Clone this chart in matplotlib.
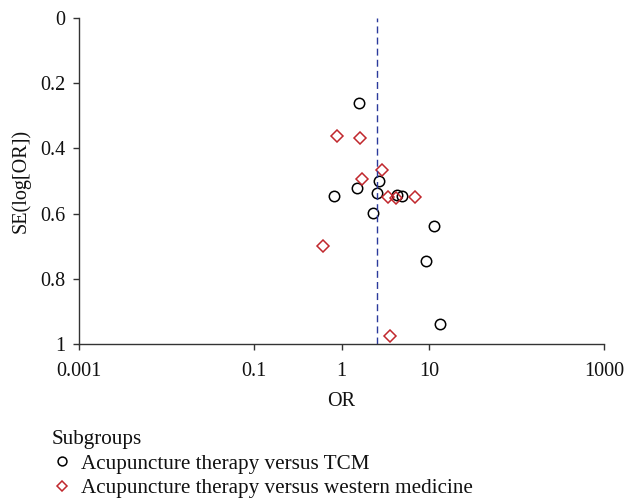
import matplotlib
matplotlib.use("Agg")
import matplotlib.pyplot as plt
from matplotlib.ticker import FixedLocator, FixedFormatter

# funnel plot data (OR, SE(log[OR]))
tcm_or = [1.58, 2.66, 1.49, 0.82, 2.52, 4.27, 4.88, 2.29, 11.5, 9.3, 13.2]
tcm_se = [0.26, 0.50, 0.521, 0.547, 0.538, 0.542, 0.545, 0.598, 0.638, 0.746, 0.938]

wm_or = [0.89, 1.63, 2.88, 1.70, 3.43, 4.16, 6.9, 0.62, 3.56]
wm_se = [0.362, 0.367, 0.467, 0.495, 0.548, 0.553, 0.548, 0.70, 0.975]

pooled_or = 2.53

x_ticks = [0.001, 0.1, 1, 10, 1000]
x_labels = ["0.001", "0.1", "1", "10", "1000"]
y_ticks = [0, 0.2, 0.4, 0.6, 0.8, 1]
y_labels = ["0", "0.2", "0.4", "0.6", "0.8", "1"]

plt.rcParams['font.family'] = ['Liberation Serif', 'DejaVu Serif']

fig = plt.figure(figsize=(6.28, 5.04), dpi=100)
ax = fig.add_axes([0.1258, 0.3175, 0.836, 0.6468])

ax.plot(tcm_or, tcm_se, linestyle='none', marker='o', markersize=7.5,
        markerfacecolor='none', markeredgecolor='black', markeredgewidth=1.1,
        label='Acupuncture therapy versus TCM')
ax.plot(wm_or, wm_se, linestyle='none', marker='D', markersize=6.5,
        markerfacecolor='none', markeredgecolor='#c1272d', markeredgewidth=1.1,
        label='Acupuncture therapy versus western medicine')
ax.axvline(pooled_or, color='#2b3a9c', linestyle=(0, (5, 3)), linewidth=1.0)

ax.set_xscale('log')
ax.set_xlim(0.001, 1000)
ax.set_ylim(1, 0)
ax.xaxis.set_major_locator(FixedLocator(x_ticks))
ax.xaxis.set_major_formatter(FixedFormatter(x_labels))
ax.xaxis.set_minor_locator(FixedLocator([]))
ax.yaxis.set_major_locator(FixedLocator(y_ticks))
ax.yaxis.set_major_formatter(FixedFormatter(y_labels))

for side in ['top', 'right']:
    ax.spines[side].set_visible(False)
for side in ['left', 'bottom']:
    ax.spines[side].set_color('#333333')
    ax.spines[side].set_linewidth(1.0)
ax.tick_params(axis='both', direction='out', length=4, width=1.0,
               color='#333333', labelsize=14.5, labelcolor='#111111')
ax.tick_params(axis='x', pad=9)
ax.tick_params(axis='y', pad=6)

ax.set_xlabel('OR', fontsize=14.5, color='#111111', labelpad=8)
ax.set_ylabel('SE(log[OR])', fontsize=14.5, color='#111111', labelpad=7)

leg = fig.legend(loc='upper left', bbox_to_anchor=(0.0816, 0.146), frameon=False,
                 title='Subgroups', fontsize=15.2, title_fontsize=15.2,
                 handlelength=1.0, handletextpad=0.4, labelspacing=0.22,
                 borderaxespad=0, borderpad=0, markerscale=0.85)
leg._legend_box.align = 'left'
leg.get_title().set_color('#111111')
for t in leg.get_texts():
    t.set_color('#111111')

fig.savefig('out.png', dpi=100)
